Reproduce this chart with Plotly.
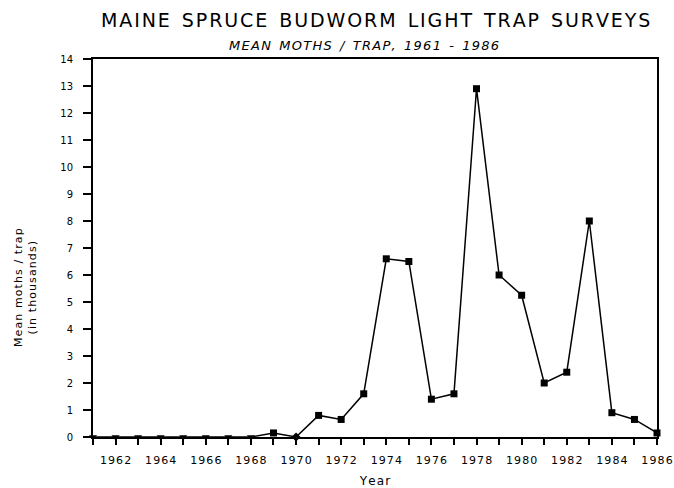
import plotly.graph_objects as go

years = list(range(1961, 1987))
moths = [0, 0, 0, 0, 0, 0, 0, 0, 0.15, 0.0, 0.8, 0.65, 1.6, 6.6, 6.5, 1.4, 1.6,
         12.9, 6.0, 5.25, 2.0, 2.4, 8.0, 0.9, 0.65, 0.15]
x_tick_labels = [str(y) for y in range(1962, 1987, 2)]
y_ticks = list(range(0, 15))

symbols = ["triangle-down"] * 8 + ["square"] + ["diamond"] + ["square"] * 16

fig = go.Figure()
fig.add_trace(go.Scatter(
    x=years, y=moths, mode="lines+markers",
    line=dict(color="black", width=1.5),
    marker=dict(symbol=symbols, size=7, color="black"),
    cliponaxis=False, showlegend=False,
))

font = "DejaVu Sans, sans-serif"
HS = "\u200a"


def spaced(s):
    return HS.join(list(s))


fig.update_layout(
    width=674, height=488,
    margin=dict(l=93, r=17, t=59, b=51),
    paper_bgcolor="white", plot_bgcolor="white",
    font=dict(family=font, color="black", size=11),
    xaxis=dict(
        range=[1961, 1986], automargin=False,
        tickvals=[int(t) for t in x_tick_labels], ticktext=[spaced(t) for t in x_tick_labels],
        showgrid=False, zeroline=False, showline=True, linecolor="black", linewidth=2,
        mirror=True, ticks="outside", ticklen=6, tickwidth=1.5, tickcolor="black",
        minor=dict(dtick=1, ticks="outside", ticklen=6, tickwidth=1.5, tickcolor="black"),
        tickfont=dict(size=11), ticklabelstandoff=6,
        title=dict(text=spaced("Year"), font=dict(size=12), standoff=10),
    ),
    yaxis=dict(
        range=[0, 14], tickvals=y_ticks, automargin=False,
        showgrid=False, zeroline=False, showline=True, linecolor="black", linewidth=2,
        mirror=True, ticks="outside", ticklen=8, tickwidth=1.5, tickcolor="black",
        tickfont=dict(size=10), ticklabelstandoff=8,
    ),
)
fig.add_annotation(text=spaced("Mean moths / trap") + "<br>" + spaced("(in thousands)"),
                   xref="paper", yref="paper", x=0, xshift=-68, y=0.394,
                   xanchor="center", yanchor="middle",
                   textangle=-90, showarrow=False, font=dict(size=11, family=font))
fig.add_annotation(text="  ".join(spaced(w) for w in "MAINE SPRUCE BUDWORM LIGHT TRAP SURVEYS".split()),
                   xref="paper", yref="paper", x=0.5, y=1.0, yshift=39,
                   xanchor="center", yanchor="middle",
                   showarrow=False, font=dict(size=19, family=font))
fig.add_annotation(text="<i>" + "  ".join(spaced(w) for w in "MEAN MOTHS / TRAP, 1961 - 1986".split()) + "</i>",
                   xref="paper", yref="paper", x=0.48, y=1.0, yshift=14,
                   xanchor="center", yanchor="middle",
                   showarrow=False, font=dict(size=13, family=font))

fig.write_html("out.html", config={"displayModeBar": False},
               post_script="document.body.style.margin='0';document.body.style.overflow='hidden';")
